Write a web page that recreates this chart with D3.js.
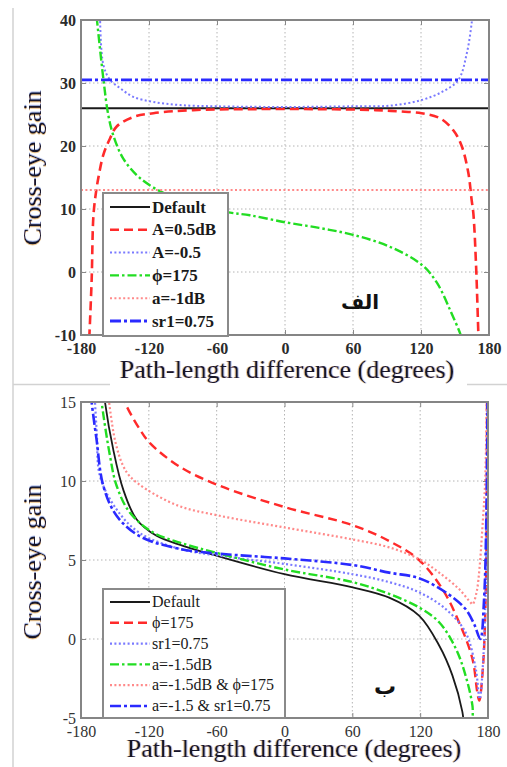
<!DOCTYPE html>
<html>
<head>
<meta charset="utf-8">
<script src="https://cdn.jsdelivr.net/npm/d3@7/dist/d3.min.js"></script>
<style>
  html, body { margin: 0; padding: 0; background: #fff; }
  svg { display: block; }
</style>
</head>
<body>
<svg id="chart" width="507" height="767"></svg>
<script>
// ---- shared axis values ----
const xTicks = [-180, -120, -60, 0, 60, 120, 180];
const yTicksA = [-10, 0, 10, 20, 30, 40];
const yTicksB = [-5, 0, 5, 10, 15];

// ---- panel "الف": cross-eye gain vs path-length difference ----
const legendA = ["Default", "A=0.5dB", "A=-0.5", "\u03D5=175", "a=-1dB", "sr1=0.75"];
const aDefault = [[-180, 26], [180, 26]];
const aAmp05 = [[-172.7, -10.5], [-170.6, -1.3], [-169, 9], [-166.5, 13], [-164, 15.6], [-160.3, 18.6],
  [-154.4, 21.2], [-148.5, 23.1], [-133.9, 24.6], [-116.2, 25.2], [-81, 25.7], [-30, 25.85],
  [30, 25.85], [80, 25.7], [100, 25.5], [120.6, 25.2], [136.8, 24.4], [148.5, 22.5], [155.9, 20],
  [161.8, 15.7], [164.7, 11.4], [166.2, 9.3], [168.5, 1.4], [170.6, -9.7], [170.8, -10.5]];
const aAmpNeg05 = [[-163.2, 40.5], [-160.3, 32.9], [-154.4, 30.5], [-145.6, 29.2], [-133.9, 27.8],
  [-116.2, 27.0], [-92.6, 26.5], [-60, 26.3], [0, 26.2], [60, 26.3], [92.6, 26.4], [120.6, 27.3],
  [139.7, 28.7], [153, 30.5], [160.4, 34.7], [164.7, 39.5], [165.2, 40.5]];
const aPhi175 = [[-166.2, 40.5], [-160.3, 30.7], [-155.9, 24.9], [-151.5, 21.7], [-142.7, 18.0],
  [-127.9, 14.9], [-104.4, 12.3], [-80, 10.8], [-51, 9.5], [-31, 9.0], [0, 7.9], [30, 7.0],
  [60, 5.9], [92.6, 4.0], [121, 1.1], [134, -1.7], [145.6, -6], [155, -10], [155.6, -10.5]];
const aAtt1 = [[-180, 13], [180, 13]];
const aSr075 = [[-180, 30.5], [180, 30.5]];

// ---- panel "ب" ----
const legendB = ["Default", "\u03D5=175", "sr1=0.75", "a=-1.5dB", "a=-1.5dB & \u03D5=175", "a=-1.5 & sr1=0.75"];
const bDefault = [[-159.5, 15.5], [-158.8, 15], [-151.5, 12.0], [-142.7, 9.47], [-130.9, 7.58],
  [-113.2, 6.53], [-89.7, 5.9], [-60.3, 5.27], [0, 4.1], [60.3, 3.27], [92.6, 2.62], [119, 1.48],
  [136.8, -0.41], [148.5, -2.3], [157.3, -4.6], [158.5, -5.4]];
const bPhi175 = [[-142.5, 15.5], [-141.2, 15], [-127.9, 13.26], [-119, 12.4], [-92.6, 10.9],
  [-57.4, 9.7], [0, 8.35], [60.3, 7.2], [92.6, 6.2], [119, 5.0], [139.7, 3.16], [154.4, 1.06],
  [166.2, -1.25], [170.6, -3.4], [172.3, -3.9], [175.8, -1.5], [178.3, 4], [179.1, 15.5]];
const bSr075 = [[-168, 15.5], [-166, 13], [-163.2, 10.3], [-148.5, 8.2], [-127.9, 6.7],
  [-92.6, 5.7], [-57.4, 5.27], [0, 4.75], [60.3, 4.1], [92.6, 3.6], [119, 2.96], [142.5, 1.9],
  [160.1, 0.43], [169.2, -1.9], [172.6, -3.8], [176, -1], [178.4, 5], [179.3, 15.5]];
const bAtt15 = [[-162.5, 15.5], [-161.8, 15], [-154.4, 11.6], [-148.5, 9.7], [-136.8, 8.0],
  [-116.2, 6.74], [-92.6, 6.1], [-57.4, 5.4], [0, 4.4], [60.3, 3.6], [92.6, 2.85], [119, 2.0],
  [136.8, 1.06], [151.5, -0.6], [160.1, -2.3], [166.2, -4.2], [168, -6], [178.8, -6], [179.4, 15.5]];
const bAtt15Phi = [[-156, 15.5], [-150, 12.6], [-143, 11.0], [-136.8, 10.3], [-122.1, 9.47],
  [-92.6, 8.4], [-57.4, 7.8], [0, 7.06], [60.3, 6.3], [92.6, 5.8], [119, 5.06], [136.8, 4.2],
  [154.4, 3.16], [164.7, 2.3], [166.4, 2.2], [170, 3], [172.5, 4.5], [175, 7], [177.5, 10],
  [178.9, 15.5]];
const bAtt15Sr = [[-171.2, 15.5], [-170.6, 15], [-166.2, 12.6], [-160.3, 9.7], [-148.5, 7.8],
  [-127.9, 6.5], [-92.6, 5.7], [-57.4, 5.4], [0, 5.1], [60.3, 4.68], [92.6, 4.2], [119, 3.85],
  [142.5, 2.96], [160.1, 1.9], [168, 0.9], [173.2, 0.0], [176.5, 2.5], [178.6, 8], [179.6, 15.5]];

// ---- styles ----
const S = {
  solid:    { color: "#1a1a1a", dash: null },
  redDash:  { color: "#ff2a2a", dash: "9,5" },
  blueDot:  { color: "#7a7aff", dash: "2,2.4" },
  greenDD:  { color: "#22dd22", dash: "9,3,2.5,3" },
  pinkDot:  { color: "#ff8a8a", dash: "2,2.4" },
  blueDD:   { color: "#2a2aff", dash: "11,3,3,3" }
};

const svg = d3.select("#chart");
const serif = "'Liberation Serif', 'Times New Roman', serif";

// faint colour fringe used on the axis titles
const defs = svg.append("defs");
const fr = defs.append("filter").attr("id", "fringe")
  .attr("x", "-5%").attr("y", "-20%").attr("width", "110%").attr("height", "140%");
fr.append("feOffset").attr("in", "SourceAlpha").attr("dx", -1).attr("dy", 0).attr("result", "o1");
fr.append("feFlood").attr("flood-color", "#e0a040").attr("flood-opacity", 0.55).attr("result", "c1");
fr.append("feComposite").attr("in", "c1").attr("in2", "o1").attr("operator", "in").attr("result", "s1");
fr.append("feOffset").attr("in", "SourceAlpha").attr("dx", 1).attr("dy", 0).attr("result", "o2");
fr.append("feFlood").attr("flood-color", "#5070d0").attr("flood-opacity", 0.45).attr("result", "c2");
fr.append("feComposite").attr("in", "c2").attr("in2", "o2").attr("operator", "in").attr("result", "s2");
const merge = fr.append("feMerge");
merge.append("feMergeNode").attr("in", "s1");
merge.append("feMergeNode").attr("in", "s2");
merge.append("feMergeNode").attr("in", "SourceGraphic");

// light frame lines around the two figure parts
const frame = svg.append("g").attr("stroke", "#d2d2d2").attr("stroke-width", 1.5).attr("fill", "none");
frame.append("line").attr("x1", 13).attr("x2", 13).attr("y1", 8).attr("y2", 767);
frame.append("line").attr("x1", 13).attr("x2", 110).attr("y1", 384.5).attr("y2", 384.5);
frame.append("line").attr("x1", 467).attr("x2", 507).attr("y1", 384.5).attr("y2", 384.5);

function drawPanel(cfg) {
  const x = d3.scaleLinear().domain([-180, 180]).range([cfg.left, cfg.right]);
  const y = d3.scaleLinear().domain(cfg.yDomain).range([cfg.bottom, cfg.top]);
  const g = svg.append("g");
  const clipId = "clip" + cfg.id;
  defs.append("clipPath").attr("id", clipId).append("rect")
    .attr("x", cfg.left).attr("y", cfg.top)
    .attr("width", cfg.right - cfg.left).attr("height", cfg.bottom - cfg.top);

  // dotted grid
  const grid = g.append("g").attr("stroke", "#b4b4b4").attr("stroke-width", 1)
    .attr("stroke-dasharray", "1.5,2.5");
  xTicks.slice(1, -1).forEach(t => grid.append("line")
    .attr("x1", x(t)).attr("x2", x(t)).attr("y1", cfg.top).attr("y2", cfg.bottom));
  cfg.yTicks.slice(1, -1).forEach(t => grid.append("line")
    .attr("x1", cfg.left).attr("x2", cfg.right).attr("y1", y(t)).attr("y2", y(t)));

  // axes (ticks point inward on all four sides)
  const fmt = d => String(d);
  const axisStyle = sel => {
    sel.attr("font-family", null).attr("font-size", null);
    sel.select(".domain").remove();
    sel.selectAll(".tick line").attr("stroke", "#888");
    sel.selectAll(".tick text").attr("font-family", serif).attr("font-size", cfg.tickSize)
      .attr("font-weight", cfg.tickWeight).attr("fill", cfg.tickColor);
  };
  g.append("g").attr("transform", `translate(0,${cfg.bottom})`)
    .call(d3.axisBottom(x).tickValues(xTicks).tickFormat(fmt).tickSize(-5).tickPadding(8))
    .call(axisStyle);
  g.append("g").attr("transform", `translate(${cfg.left},0)`)
    .call(d3.axisLeft(y).tickValues(cfg.yTicks).tickFormat(fmt).tickSize(-5).tickPadding(5))
    .call(axisStyle);
  g.append("g").attr("transform", `translate(0,${cfg.top})`)
    .call(d3.axisTop(x).tickValues(xTicks).tickSize(-5).tickFormat(""))
    .call(axisStyle);
  g.append("g").attr("transform", `translate(${cfg.right},0)`)
    .call(d3.axisRight(y).tickValues(cfg.yTicks).tickSize(-5).tickFormat(""))
    .call(axisStyle);

  // curves
  const line = d3.line().x(d => x(d[0])).y(d => y(d[1])).curve(d3.curveCatmullRom.alpha(0.5));
  const lines = g.append("g").attr("clip-path", `url(#${clipId})`);
  cfg.series.forEach(s => {
    lines.append("path").datum(s.data)
      .attr("fill", "none").attr("stroke", s.style.color).attr("stroke-width", s.width)
      .attr("stroke-dasharray", s.style.dash).attr("stroke-linejoin", "round")
      .attr("d", line);
  });

  // plot frame
  g.append("rect").attr("x", cfg.left).attr("y", cfg.top)
    .attr("width", cfg.right - cfg.left).attr("height", cfg.bottom - cfg.top)
    .attr("fill", "none").attr("stroke", "#858585").attr("stroke-width", 2);

  // legend
  const L = cfg.legend;
  g.append("rect").attr("x", L.x).attr("y", L.y).attr("width", L.w).attr("height", L.h)
    .attr("fill", "#fff").attr("stroke", "#8a8a8a").attr("stroke-width", 2);
  cfg.series.forEach((s, i) => {
    const ly = L.y + L.first + i * L.step;
    g.append("line").attr("x1", L.x + 7).attr("x2", L.x + 47).attr("y1", ly).attr("y2", ly)
      .attr("stroke", s.style.color).attr("stroke-width", s.width)
      .attr("stroke-dasharray", s.style.dash);
    g.append("text").attr("x", L.x + 49).attr("y", ly + L.size * 0.33)
      .attr("font-family", serif).attr("font-size", L.size).attr("font-weight", L.weight)
      .attr("fill", "#1a1a1a").text(s.name);
  });

  // axis titles
  g.append("text")
    .attr("transform", `translate(${cfg.yLabelX},${cfg.yLabelY}) rotate(-90)`)
    .attr("text-anchor", "middle").attr("font-family", serif).attr("font-size", 26)
    .attr("fill", "#15152a").attr("filter", "url(#fringe)").text("Cross-eye gain");
  g.append("text")
    .attr("x", cfg.xLabelX).attr("y", cfg.xLabelY)
    .attr("text-anchor", "middle").attr("font-family", serif).attr("font-size", 26)
    .attr("fill", "#15152a").attr("filter", "url(#fringe)").text("Path-length difference (degrees)");

  // panel tag
  g.append("text").attr("x", cfg.tag.x).attr("y", cfg.tag.y).attr("text-anchor", "middle")
    .attr("font-family", "'DejaVu Sans', sans-serif").attr("font-weight", "bold")
    .attr("font-size", cfg.tag.size).attr("fill", "#111").text(cfg.tag.text);
}

drawPanel({
  id: "A", left: 81, right: 489, top: 20, bottom: 335, yDomain: [-10, 40], yTicks: yTicksA,
  tickSize: 16, tickWeight: "bold", tickColor: "#2a2a2a",
  series: [
    { name: legendA[0], data: aDefault, style: S.solid, width: 2 },
    { name: legendA[1], data: aAmp05, style: S.redDash, width: 2.6 },
    { name: legendA[2], data: aAmpNeg05, style: S.blueDot, width: 2 },
    { name: legendA[3], data: aPhi175, style: S.greenDD, width: 2.4 },
    { name: legendA[4], data: aAtt1, style: S.pinkDot, width: 2 },
    { name: legendA[5], data: aSr075, style: S.blueDD, width: 2.8 }
  ],
  legend: { x: 103, y: 193, w: 125, h: 143, first: 14, step: 22.8, size: 17, weight: "bold" },
  yLabelX: 41, yLabelY: 168, xLabelX: 287, xLabelY: 378,
  tag: { text: "الف", x: 360, y: 309, size: 20 }
});

drawPanel({
  id: "B", left: 81, right: 488, top: 402, bottom: 718, yDomain: [-5, 15], yTicks: yTicksB,
  tickSize: 16, tickWeight: "normal", tickColor: "#333",
  series: [
    { name: legendB[0], data: bDefault, style: S.solid, width: 1.8 },
    { name: legendB[1], data: bPhi175, style: S.redDash, width: 2.4 },
    { name: legendB[2], data: bSr075, style: S.blueDot, width: 2.2 },
    { name: legendB[3], data: bAtt15, style: S.greenDD, width: 2.4 },
    { name: legendB[4], data: bAtt15Phi, style: S.pinkDot, width: 2.2 },
    { name: legendB[5], data: bAtt15Sr, style: S.blueDD, width: 2.6 }
  ],
  legend: { x: 103, y: 589, w: 182, h: 129, first: 13, step: 20.8, size: 16, weight: "normal" },
  yLabelX: 41, yLabelY: 562, xLabelX: 294, xLabelY: 757,
  tag: { text: "ب", x: 385, y: 694, size: 22 }
});
</script>
</body>
</html>
